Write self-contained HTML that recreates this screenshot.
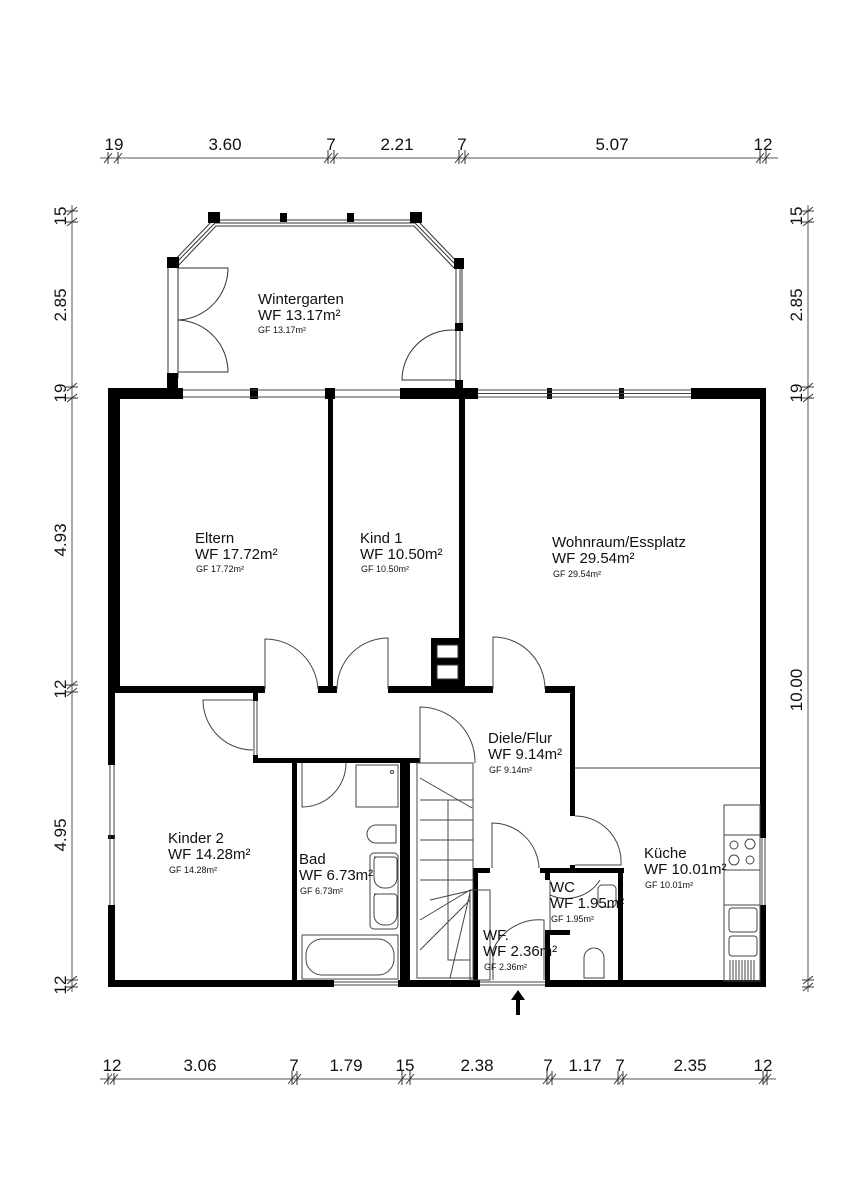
<!DOCTYPE html>
<html><head><meta charset="utf-8"><style>
html,body{margin:0;padding:0;background:#fff;}
svg{display:block;font-family:"Liberation Sans",sans-serif;}
.d{font-size:17px;}
.t1{font-size:15px;}
.t2{font-size:9px;}
</style></head><body>
<svg width="848" height="1200" viewBox="0 0 848 1200" xmlns="http://www.w3.org/2000/svg">
<rect width="848" height="1200" fill="#fff"/>

<g stroke="#555" stroke-width="1" fill="none">
 <line x1="100" y1="158" x2="778" y2="158"/>
 <line x1="100" y1="1079" x2="776" y2="1079"/>
 <line x1="72" y1="205" x2="72" y2="992"/>
 <line x1="808" y1="205" x2="808" y2="992"/>
</g>
<g stroke="#333" stroke-width="1">
 <path d="M108 152v12M118 152v12M104 163l8-10M114 163l8-10M328 150v14M334 150v14M324 163l8-10M330 163l8-10M459 150v14M465 150v14M455 163l8-10M461 163l8-10M760 150v14M766 150v14M756 163l8-10M762 163l8-10"/>
 <path d="M108 1073v12M114 1073v12M104 1084l8-10M110 1084l8-10M292 1071v14M297 1071v14M288 1084l8-10M293 1084l8-10M402 1071v14M410 1071v14M398 1084l8-10M406 1084l8-10M547 1071v14M552 1071v14M543 1084l8-10M548 1084l8-10M618 1071v14M623 1071v14M614 1084l8-10M619 1084l8-10M763 1071v14M767 1071v14M759 1084l8-10M763 1084l8-10"/>
 <path d="M66 211h12M66 222h12M77 207l-10 8M77 218l-10 8M66 387h12M66 398h12M77 383l-10 8M77 394l-10 8M66 685h12M66 692h12M77 681l-10 8M77 688l-10 8M66 980h12M66 987h12M77 976l-10 8M77 983l-10 8"/>
 <path d="M802 211h12M802 222h12M813 207l-10 8M813 218l-10 8M802 387h12M802 398h12M813 383l-10 8M813 394l-10 8M802 980h12M802 987h12M813 976l-10 8M813 983l-10 8"/>
</g>
<g class="d" fill="#111" text-anchor="middle">
 <text x="114" y="150">19</text><text x="225" y="150">3.60</text><text x="331" y="150">7</text><text x="397" y="150">2.21</text><text x="462" y="150">7</text><text x="612" y="150">5.07</text><text x="763" y="150">12</text>
 <text x="112" y="1071">12</text><text x="200" y="1071">3.06</text><text x="294" y="1071">7</text><text x="346" y="1071">1.79</text><text x="405" y="1071">15</text><text x="477" y="1071">2.38</text><text x="548" y="1071">7</text><text x="585" y="1071">1.17</text><text x="620" y="1071">7</text><text x="690" y="1071">2.35</text><text x="763" y="1071">12</text>
 <g transform="translate(66,0)">
  <text transform="translate(0,216) rotate(-90)">15</text>
  <text transform="translate(0,305) rotate(-90)">2.85</text>
  <text transform="translate(0,393) rotate(-90)">19</text>
  <text transform="translate(0,540) rotate(-90)">4.93</text>
  <text transform="translate(0,689) rotate(-90)">12</text>
  <text transform="translate(0,835) rotate(-90)">4.95</text>
  <text transform="translate(0,985) rotate(-90)">12</text>
 </g>
 <g transform="translate(802,0)">
  <text transform="translate(0,216) rotate(-90)">15</text>
  <text transform="translate(0,305) rotate(-90)">2.85</text>
  <text transform="translate(0,393) rotate(-90)">19</text>
  <text transform="translate(0,690) rotate(-90)">10.00</text>
 </g>
</g>

<g stroke="#333" stroke-width="1" fill="none">
 <path d="M170 265L213 220L417 220L460 265L460 388"/>
 <path d="M176 268L216 226L414 226L454 268"/>
 <path d="M173 266L215 223L415 223L457 266"/>
 <line x1="168" y1="265" x2="168" y2="378"/><line x1="178" y1="265" x2="178" y2="378"/>
 <line x1="456" y1="268" x2="456" y2="330"/><line x1="462" y1="268" x2="462" y2="330"/>
 <line x1="456" y1="330" x2="456" y2="380"/>
 <path d="M178 268h50a52 52 0 0 1 -50 52"/>
 <path d="M178 320a52 52 0 0 1 50 52h-50"/>
 <path d="M456 330h-4a50 50 0 0 0 -50 50h54"/>
</g>
<g fill="#000">
 <rect x="167" y="257" width="12" height="11"/>
 <rect x="208" y="212" width="12" height="11"/>
 <rect x="280" y="213" width="7" height="9"/>
 <rect x="347" y="213" width="7" height="9"/>
 <rect x="410" y="212" width="12" height="11"/>
 <rect x="454" y="258" width="10" height="11"/>
 <rect x="455" y="323" width="8" height="8"/>
 <rect x="167" y="373" width="11" height="17"/>
 <rect x="455" y="380" width="8" height="10"/>
</g>

<g fill="#000">
 <rect x="108" y="388" width="75" height="11"/>
 <rect x="250" y="388" width="8" height="11"/>
 <rect x="325" y="388" width="10" height="11"/>
 <rect x="400" y="388" width="78" height="11"/>
 <rect x="547" y="388" width="5" height="11"/>
 <rect x="619" y="388" width="5" height="11"/>
 <rect x="691" y="388" width="75" height="11"/>
 <rect x="108" y="388" width="12" height="303"/>
 <rect x="108" y="686" width="7" height="79"/>
 <rect x="108" y="835" width="7" height="4"/>
 <rect x="108" y="905" width="7" height="82"/>
 <rect x="760" y="388" width="6" height="450"/>
 <rect x="760" y="905" width="6" height="82"/>
 <rect x="108" y="980" width="226" height="7"/>
 <rect x="398" y="980" width="82" height="7"/>
 <rect x="545" y="980" width="221" height="7"/>
</g>
<g stroke="#444" stroke-width="1" fill="none">
 <path d="M183 390h142M183 397h142M335 390h65M335 397h65M478 390h213M478 397h213M478 393.5h213"/>
 <path d="M110 765v140M114 765v140M762 838v67M765 838v67M334 982h64M334 985h64M480 982h65M480 985h65"/>
</g>

<g fill="#000">
 <rect x="328" y="399" width="5" height="290"/>
 <rect x="459" y="399" width="6" height="290"/>
 <rect x="431" y="638" width="34" height="51"/>
 <rect x="108" y="686" width="157" height="7"/>
 <rect x="318" y="686" width="19" height="7"/>
 <rect x="388" y="686" width="105" height="7"/>
 <rect x="545" y="686" width="29" height="7"/>
 <rect x="253" y="693" width="5" height="8"/>
 <rect x="253" y="755" width="5" height="8"/>
 <rect x="253" y="758" width="167" height="5"/>
 <rect x="292" y="760" width="5" height="222"/>
 <rect x="400" y="760" width="10" height="222"/>
 <rect x="570" y="686" width="5" height="130"/>
 <rect x="570" y="865" width="5" height="8"/>
 <rect x="473" y="868" width="5" height="114"/>
 <rect x="473" y="868" width="17" height="5"/>
 <rect x="540" y="868" width="84" height="5"/>
 <rect x="545" y="868" width="5" height="12"/>
 <rect x="545" y="930" width="5" height="52"/>
 <rect x="545" y="930" width="25" height="5"/>
 <rect x="618" y="868" width="5" height="114"/>
</g>
<g fill="#fff" stroke="#333" stroke-width="1">
 <rect x="437" y="645" width="21" height="13"/>
 <rect x="437" y="665" width="21" height="14"/>
</g>
<g stroke="#444" stroke-width="1" fill="none">
 <path d="M254 701v54M257 701v54"/>
 <line x1="575" y1="768" x2="760" y2="768"/>
 <path d="M265 689v-50a53 53 0 0 1 53 50"/>
 <path d="M337 689a51 51 0 0 1 51 -51v51"/>
 <path d="M493 689v-52a52 52 0 0 1 52 52"/>
 <path d="M253 700h-50a50 50 0 0 0 50 50"/>
 <path d="M420 763v-56a55 55 0 0 1 55 56"/>
 <path d="M302 763v44a44 44 0 0 0 44 -44"/>
 <path d="M492 868v-45a47 47 0 0 1 47 45"/>
 <path d="M575 816a46 46 0 0 1 46 49h-46"/>
 <path d="M550 880v50M550 895a40 40 0 0 0 50 -15"/>
 <path d="M493 980v-30a50 50 0 0 1 51 -30v60"/>
</g>

<g stroke="#444" stroke-width="1" fill="none">
 <rect x="417" y="763" width="56" height="215"/>
 <path d="M420 800h53M420 820h53M420 840h53M420 860h53M420 880h53M430 900l43 -10M420 920l50 -30M420 950l50 -50M450 978l20 -85"/>
 <path d="M420 778l52 30M448 800v160h22"/>
 <rect x="470" y="890" width="20" height="90"/>
</g>

<g stroke="#444" stroke-width="1" fill="none">
 <rect x="356" y="765" width="42" height="42"/>
 <circle cx="392" cy="772" r="1.5"/>
 <path d="M396 825h-20a9 9 0 0 0 0 18h20z"/>
 <rect x="370" y="853" width="28" height="76" rx="4"/>
 <path d="M374 857h20a3 3 0 0 1 3 3v18a10 10 0 0 1 -10 10h-3a10 10 0 0 1 -10 -10v-18a3 3 0 0 1 3 -3z"/>
 <path d="M374 894h20a3 3 0 0 1 3 3v18a10 10 0 0 1 -10 10h-3a10 10 0 0 1 -10 -10v-18a3 3 0 0 1 3 -3z"/>
 <rect x="302" y="935" width="96" height="44"/>
 <rect x="306" y="939" width="88" height="36" rx="16"/>
</g>
<g stroke="#444" stroke-width="1" fill="none">
 <rect x="598" y="885" width="18" height="22" rx="4"/>
 <path d="M584 978v-20a10 10 0 0 1 20 0v20z"/>
</g>
<g stroke="#444" stroke-width="1" fill="none">
 <rect x="724" y="805" width="36" height="176"/>
 <line x1="724" y1="835" x2="760" y2="835"/>
 <line x1="724" y1="870" x2="760" y2="870"/>
 <line x1="724" y1="905" x2="760" y2="905"/>
 <circle cx="734" cy="845" r="4"/><circle cx="750" cy="844" r="5"/><circle cx="734" cy="860" r="5"/><circle cx="750" cy="860" r="4"/>
 <rect x="729" y="908" width="28" height="24" rx="3"/>
 <rect x="729" y="936" width="28" height="20" rx="3"/>
 <path d="M730 960v20M733 960v20M736 960v20M739 960v20M742 960v20M745 960v20M748 960v20M751 960v20M754 960v20"/>
</g>

<!-- entrance arrow -->
<path d="M518 990l-7 10h5v15h4v-15h5z" fill="#000"/>

<g fill="#111">
 <text class="t1" x="258" y="304">Wintergarten</text>
 <text class="t1" x="258" y="320">WF 13.17m²</text>
 <text class="t2" x="258" y="333">GF 13.17m²</text>
 <text class="t1" x="195" y="543">Eltern</text>
 <text class="t1" x="195" y="559">WF 17.72m²</text>
 <text class="t2" x="196" y="572">GF 17.72m²</text>
 <text class="t1" x="360" y="543">Kind 1</text>
 <text class="t1" x="360" y="559">WF 10.50m²</text>
 <text class="t2" x="361" y="572">GF 10.50m²</text>
 <text class="t1" x="552" y="547">Wohnraum/Essplatz</text>
 <text class="t1" x="552" y="563">WF 29.54m²</text>
 <text class="t2" x="553" y="577">GF 29.54m²</text>
 <text class="t1" x="488" y="743">Diele/Flur</text>
 <text class="t1" x="488" y="759">WF 9.14m²</text>
 <text class="t2" x="489" y="773">GF 9.14m²</text>
 <text class="t1" x="168" y="843">Kinder 2</text>
 <text class="t1" x="168" y="859">WF 14.28m²</text>
 <text class="t2" x="169" y="873">GF 14.28m²</text>
 <text class="t1" x="299" y="864">Bad</text>
 <text class="t1" x="299" y="880">WF 6.73m²</text>
 <text class="t2" x="300" y="894">GF 6.73m²</text>
 <text class="t1" x="644" y="858">Küche</text>
 <text class="t1" x="644" y="874">WF 10.01m²</text>
 <text class="t2" x="645" y="888">GF 10.01m²</text>
 <text class="t1" x="550" y="892">WC</text>
 <text class="t1" x="550" y="908">WF 1.95m²</text>
 <text class="t2" x="551" y="922">GF 1.95m²</text>
 <text class="t1" x="483" y="940">WF.</text>
 <text class="t1" x="483" y="956">WF 2.36m²</text>
 <text class="t2" x="484" y="970">GF 2.36m²</text>
</g>
</svg>
</body></html>
